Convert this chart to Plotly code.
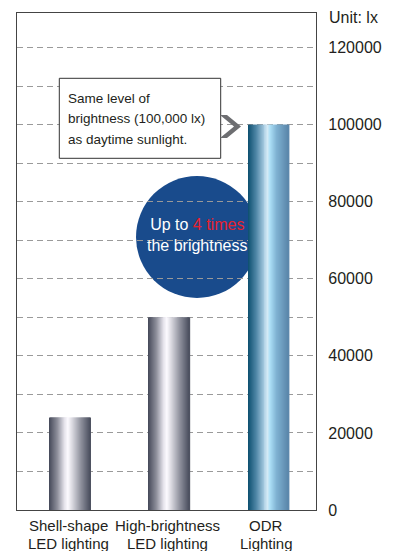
import plotly.graph_objects as go

categories = ["Shell-shape<br>LED lighting", "High-brightness<br>LED lighting", "ODR<br>Lighting"]
values = [24000, 50000, 100000]
y_tickvals = [0, 20000, 40000, 60000, 80000, 100000, 120000]
y_ticktext = ["0", "20000", "40000", "60000", "80000", "100000", "120000"]

OFF = 8  # page body margin
W, H = 398 - OFF, 551 - OFF
ML, MT = 17 - OFF, 13 - OFF
MR = W - (316 - OFF)
MB = H - (510 - OFF)
PW, PH = W - ML - MR, H - MT - MB

def px(x):
    return (x - OFF - ML) / PW

def py(y):
    return (H - MB - (y - OFF)) / PH

def hex2rgb(h):
    h = h.lstrip("#")
    return [int(h[i:i + 2], 16) for i in (0, 2, 4)]

def interp(stops, t):
    for (t0, c0), (t1, c1) in zip(stops[:-1], stops[1:]):
        if t0 <= t <= t1:
            a, b = hex2rgb(c0), hex2rgb(c1)
            f = (t - t0) / (t1 - t0) if t1 > t0 else 0
            return "rgb(%d,%d,%d)" % tuple(round(a[i] + (b[i] - a[i]) * f) for i in range(3))
    return stops[-1][1]

gray_stops = [(0, "#444858"), (0.2, "#8c8e9a"), (0.38, "#e6e4ec"), (0.46, "#fcfaff"),
              (0.56, "#dcdbe2"), (0.78, "#8e909c"), (1, "#4a4e5e")]
blue_stops = [(0, "#0c4f6f"), (0.2, "#4f86a6"), (0.4, "#a8cce2"), (0.5, "#d4eaf6"),
              (0.56, "#ade0f7"), (0.72, "#7fb2d2"), (1, "#5a86aa")]

x = list(range(len(categories)))
BW = 0.41
N = 41
fig = go.Figure()
for k in range(N):
    t = (k + 0.5) / N
    colors = [interp(gray_stops, t), interp(gray_stops, t), interp(blue_stops, t)]
    fig.add_trace(go.Bar(
        x=x, y=values, width=BW / N * 1.6, offset=-BW / 2 + k * BW / N,
        marker=dict(color=colors, line=dict(width=0)),
        showlegend=False, hoverinfo="skip"))

fig.update_layout(
    width=W, height=H, margin=dict(l=ML, r=MR, t=MT, b=MB, autoexpand=False),
    paper_bgcolor="white", plot_bgcolor="white", barmode="overlay",
    font=dict(family="Liberation Sans, Arial, sans-serif", color="#231f20"),
    xaxis=dict(range=[-0.534, 2.479], tickvals=x, showticklabels=False, showgrid=False,
               showline=True, mirror=True, linecolor="#444", linewidth=1.2,
               ticks="", fixedrange=True, automargin=False),
    yaxis=dict(range=[0, 129000], side="right", tickvals=y_tickvals, ticktext=y_ticktext,
               tickfont=dict(size=16, color="#231f20"), showgrid=True,
               gridcolor="#9a9a9a", gridwidth=1, griddash="6px,4px",
               minor=dict(dtick=10000, tick0=0, showgrid=True, gridcolor="#9a9a9a",
                          gridwidth=1, griddash="6px,4px", ticks=""),
               zeroline=False, showline=True, mirror=True, linecolor="#444", linewidth=1.2,
               ticks="", ticklabelstandoff=8, fixedrange=True, automargin=False),
)

# category labels (two lines each, tighter spacing than tick labels allow)
for xi, cat in zip(x, categories):
    for line, yy in zip(cat.split("<br>"), (525.7, 543.0)):
        fig.add_annotation(xref="x", yref="paper", x=xi - 0.02, y=py(yy), text=line,
                           showarrow=False, font=dict(size=15, color="#231f20"),
                           xanchor="center", yanchor="middle")

# circle badge (behind bars)
fig.add_shape(type="circle", xref="paper", yref="paper",
              x0=px(136), x1=px(258), y0=py(298), y1=py(176),
              fillcolor="#194b8c", line=dict(width=0), layer="between")
fig.add_annotation(xref="paper", yref="paper", x=px(197), y=py(235),
                   text="Up to <span style='color:#e8212e'>4 times</span><br>the brightness",
                   showarrow=False, font=dict(size=16, color="white"), align="center",
                   xanchor="center", yanchor="middle")

# callout box
fig.add_shape(type="rect", xref="paper", yref="paper",
              x0=px(59.3), x1=px(220.7), y0=py(158.3), y1=py(78.3),
              fillcolor="white", line=dict(color="#333", width=1), layer="above")
for txt, yy in [("Same level of", 98.5), ("brightness (100,000 lx)", 119), ("as daytime sunlight.", 139.5)]:
    fig.add_annotation(xref="paper", yref="paper", x=px(66), y=py(yy), text=txt,
                       showarrow=False, font=dict(size=13.5, color="#231f20"),
                       xanchor="left", yanchor="middle")

# chevron
pts = [(220, 115), (227, 115), (241, 126.5), (227, 138), (220, 138), (234, 126.5)]
path = "M " + " L ".join("%f,%f" % (px(a), py(b)) for a, b in pts) + " Z"
fig.add_shape(type="path", xref="paper", yref="paper", path=path,
              fillcolor="#6d6e71", line=dict(width=0), layer="above")

fig.add_annotation(xref="paper", yref="paper", x=px(327), y=py(17), text="Unit: lx",
                   showarrow=False, font=dict(size=16, color="#231f20"),
                   xanchor="left", yanchor="middle")

fig.write_html("out.html")
